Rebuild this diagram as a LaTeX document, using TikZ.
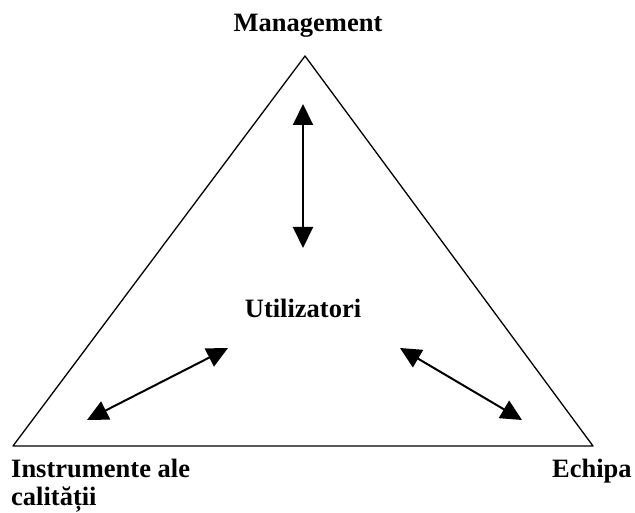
\documentclass[tikz,border=0pt]{standalone}
\usepackage{fontspec}
\setmainfont{Liberation Serif}
\usetikzlibrary{arrows.meta}

\begin{document}
\begin{tikzpicture}[x=1pt,y=-1pt,line join=round,>={Triangle[length=21pt,width=20pt]}]
\tikzset{every node/.style={inner sep=0pt,font=\fontsize{26.5}{28}\selectfont\bfseries}}
\useasboundingbox (0,0) rectangle (635,513);
% corners of the triangle
\coordinate (top) at (305,56);
\coordinate (left) at (13,446);
\coordinate (right) at (593,446);
\draw[line width=1.3pt] (top)--(left)--(right)--cycle;
% labels
\node[anchor=base] (mgmt) at (308,32) {Management};
\node[anchor=base] (util) at (303,318) {Utilizatori};
\node[anchor=base west,align=left] (instr) at (11,505) {Instrumente ale\\calității};
\node[anchor=base west] (echipa) at (552,477) {Echipa};
% arrows
\coordinate (a1) at (303,104);
\coordinate (a2) at (303,248);
\coordinate (b1) at (87,420);
\coordinate (b2) at (228,348);
\coordinate (c1) at (400,348);
\coordinate (c2) at (522,420);
\draw[<->,line width=2pt] (a1)--(a2);
\draw[<->,line width=2pt] (b1)--(b2);
\draw[<->,line width=2pt] (c1)--(c2);
\end{tikzpicture}
\end{document}
